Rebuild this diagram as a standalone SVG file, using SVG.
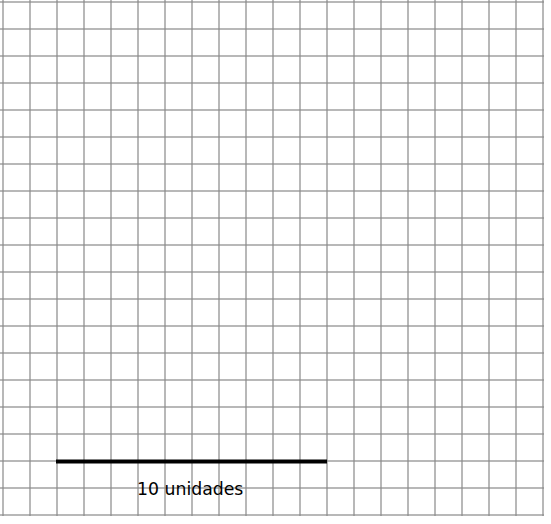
<svg xmlns="http://www.w3.org/2000/svg" width="551" height="524" viewBox="0 0 551 524">
<style>.grid line{stroke:#888;stroke-opacity:0.6;stroke-width:2}</style>
<rect width="551" height="524" fill="#fff"/>
<g id="grid" class="grid">
<line x1="3" y1="0" x2="3" y2="516"/><line x1="30" y1="0" x2="30" y2="516"/><line x1="57" y1="0" x2="57" y2="516"/><line x1="84" y1="0" x2="84" y2="516"/><line x1="111" y1="0" x2="111" y2="516"/><line x1="138" y1="0" x2="138" y2="516"/><line x1="165" y1="0" x2="165" y2="516"/><line x1="192" y1="0" x2="192" y2="516"/><line x1="219" y1="0" x2="219" y2="516"/><line x1="246" y1="0" x2="246" y2="516"/><line x1="273" y1="0" x2="273" y2="516"/><line x1="300" y1="0" x2="300" y2="516"/><line x1="327" y1="0" x2="327" y2="516"/><line x1="354" y1="0" x2="354" y2="516"/><line x1="381" y1="0" x2="381" y2="516"/><line x1="408" y1="0" x2="408" y2="516"/><line x1="435" y1="0" x2="435" y2="516"/><line x1="462" y1="0" x2="462" y2="516"/><line x1="489" y1="0" x2="489" y2="516"/><line x1="516" y1="0" x2="516" y2="516"/><line x1="543" y1="0" x2="543" y2="516"/>
<line x1="0" y1="2" x2="544" y2="2"/><line x1="0" y1="29" x2="544" y2="29"/><line x1="0" y1="56" x2="544" y2="56"/><line x1="0" y1="83" x2="544" y2="83"/><line x1="0" y1="110" x2="544" y2="110"/><line x1="0" y1="137" x2="544" y2="137"/><line x1="0" y1="164" x2="544" y2="164"/><line x1="0" y1="191" x2="544" y2="191"/><line x1="0" y1="218" x2="544" y2="218"/><line x1="0" y1="245" x2="544" y2="245"/><line x1="0" y1="272" x2="544" y2="272"/><line x1="0" y1="299" x2="544" y2="299"/><line x1="0" y1="326" x2="544" y2="326"/><line x1="0" y1="353" x2="544" y2="353"/><line x1="0" y1="380" x2="544" y2="380"/><line x1="0" y1="407" x2="544" y2="407"/><line x1="0" y1="434" x2="544" y2="434"/><line x1="0" y1="461" x2="544" y2="461"/><line x1="0" y1="488" x2="544" y2="488"/><line x1="0" y1="515" x2="544" y2="515"/>
</g>
<g id="scale">
<line x1="56" y1="461.5" x2="327" y2="461.5" stroke="#000" stroke-width="4"/>
<text x="137" y="495" font-family="DejaVu Sans, sans-serif" font-size="17.3" fill="#000">10 unidades</text>
</g>
</svg>
